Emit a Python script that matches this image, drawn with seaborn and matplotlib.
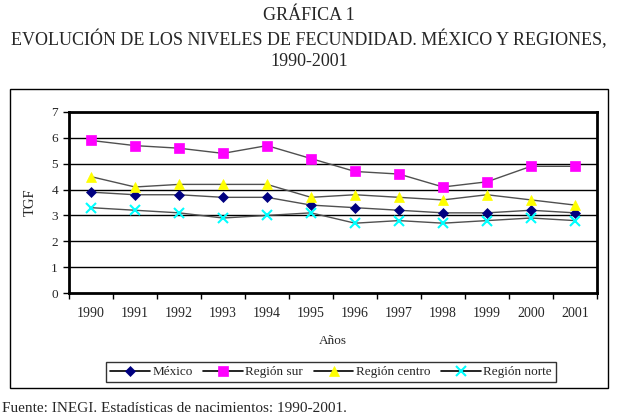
import matplotlib
matplotlib.use("Agg")
import matplotlib.pyplot as plt
from matplotlib.lines import Line2D
from matplotlib.patches import Rectangle
import seaborn as sns
import pandas as pd

years = ["1990", "1991", "1992", "1993", "1994", "1995", "1996", "1997", "1998", "1999", "2000", "2001"]
mexico = [3.9, 3.8, 3.8, 3.7, 3.7, 3.4, 3.3, 3.2, 3.1, 3.1, 3.2, 3.1]
region_sur = [5.9, 5.7, 5.6, 5.4, 5.7, 5.2, 4.7, 4.6, 4.1, 4.3, 4.9, 4.9]
region_centro = [4.5, 4.1, 4.2, 4.2, 4.2, 3.7, 3.8, 3.7, 3.6, 3.8, 3.6, 3.4]
region_norte = [3.3, 3.2, 3.1, 2.9, 3.0, 3.1, 2.7, 2.8, 2.7, 2.8, 2.9, 2.8]
series_names = ["México", "Región sur", "Región centro", "Región norte"]
y_ticks = [0, 1, 2, 3, 4, 5, 6, 7]

sns.set_theme(style="white")
plt.rcParams['font.family'] = ['Liberation Serif', 'DejaVu Serif']

fig = plt.figure(figsize=(6.18, 4.19), dpi=100)
ax = fig.add_axes([69/618, 1-293/419, (597-69)/618, (293-112)/419])

styles = [
    ("D", "#000080", 5.5),
    ("s", "#FF00FF", 6.5),
    ("^", "#FFFF00", 7),
    ("x", "#00FFFF", 6.5),
]
pos = list(range(len(years)))
data = [mexico, region_sur, region_centro, region_norte]
handles = []
for name, vals, (m, c, ms) in zip(series_names, data, styles):
    df = pd.DataFrame({"x": pos, "y": vals})
    sns.lineplot(data=df, x="x", y="y", ax=ax, color="#505050", lw=1,
                 marker=m, markersize=ms, markerfacecolor=c, markeredgecolor=c,
                 markeredgewidth=1.5 if m == "x" else 0.5, zorder=3)
    handles.append(Line2D([0], [0], color="black", lw=1.2, marker=m, markersize=ms,
                          markerfacecolor=c, markeredgecolor=c,
                          markeredgewidth=1.5 if m == "x" else 0.5))

ax.set_xlim(-0.5, len(years) - 0.5)
ax.set_ylim(0, 7)
ax.set_yticks(y_ticks)
ax.set_yticklabels([str(t) for t in y_ticks], fontsize=9.5)
ax.set_xticks([p - 0.5 for p in range(len(years) + 1)])
ax.set_xticklabels([])
ax.set_xticks(pos, minor=True)
ax.set_xticklabels(years, minor=True, fontsize=10)
ax.tick_params(axis="x", which="major", direction="out", length=4, width=1, color="black", bottom=True)
ax.tick_params(axis="x", which="minor", length=0, pad=10)
ax.tick_params(axis="y", direction="out", length=4, width=1, color="black", left=True, pad=4)
for t in y_ticks[1:-1]:
    ax.axhline(t, color="black", lw=1, zorder=1)
for s in ax.spines.values():
    s.set_visible(True)
    s.set_color("black")
    s.set_linewidth(2)
ax.set_xlabel("Años", fontsize=9.5, labelpad=11)
ax.set_ylabel("TGF", fontsize=10.5, labelpad=10)

leg = fig.legend(handles, series_names, ncol=4, loc="center",
                 bbox_to_anchor=(331/618, 1-372/419), fontsize=9.5,
                 frameon=True, fancybox=False, edgecolor="black",
                 handlelength=3, handletextpad=0.2, columnspacing=0.8,
                 borderpad=0.3)
leg.get_frame().set_linewidth(1)

fig.patches.append(Rectangle((10/618, 1-388/419), 598/618, 299/419, transform=fig.transFigure,
                             fill=False, edgecolor="black", lw=1))

fig.text(0.5, 1-16/419, "GRÁFICA 1", ha="center", va="center", fontsize=13)
fig.text(0.5, 1-39/419, "EVOLUCIÓN DE LOS NIVELES DE FECUNDIDAD. MÉXICO Y REGIONES,",
         ha="center", va="center", fontsize=13)
fig.text(0.5, 1-61/419, "1990-2001", ha="center", va="center", fontsize=13)
fig.text(2/618, 1-408/419, "Fuente: INEGI. Estadísticas de nacimientos: 1990-2001.",
         ha="left", va="center", fontsize=11)

fig.savefig("out.png", dpi=100)
